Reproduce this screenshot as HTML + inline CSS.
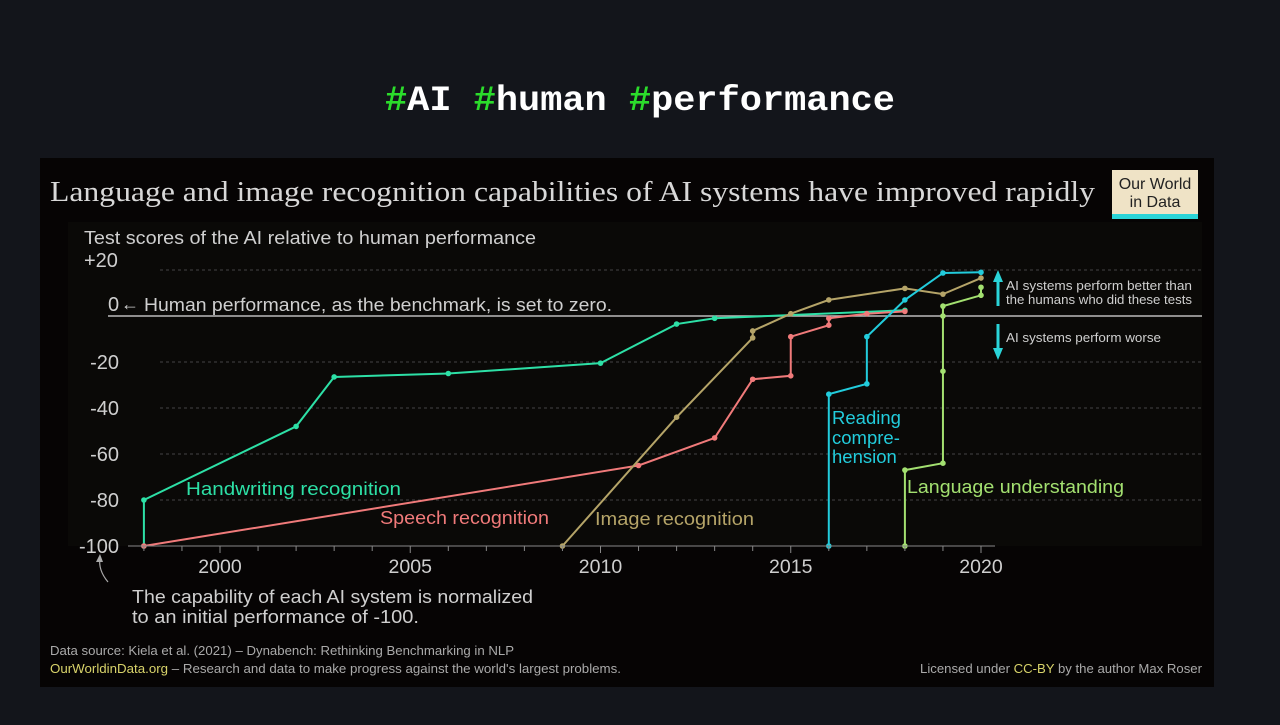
<!DOCTYPE html>
<html><head><meta charset="utf-8"><style>
body{margin:0;width:1280px;height:720px;background:#13151b;overflow:hidden;font-family:"Liberation Sans",sans-serif}
</style></head><body>
<svg width="1280" height="720" viewBox="0 0 1280 720" xmlns="http://www.w3.org/2000/svg">
<text x="385" y="110" textLength="510" lengthAdjust="spacingAndGlyphs" font-family="Liberation Mono, monospace" font-weight="bold" font-size="35" fill="#fff"><tspan fill="#2bdc2b">#</tspan>AI <tspan fill="#2bdc2b">#</tspan>human <tspan fill="#2bdc2b">#</tspan>performance</text>
<rect x="40" y="158" width="1174" height="529" fill="#060404"/>
<rect x="68" y="222" width="1134" height="324" fill="#0a0907"/>
<text x="50" y="201" textLength="1045" lengthAdjust="spacingAndGlyphs" font-family="Liberation Serif, serif" font-size="28" fill="#d8d8d8">Language and image recognition capabilities of AI systems have improved rapidly</text>
<g>
<rect x="1112" y="170" width="86" height="49" fill="#efe3c6"/>
<rect x="1112" y="214" width="86" height="5" fill="#2ad4d8"/>
<text x="1155" y="189" text-anchor="middle" font-size="16" fill="#222">Our World</text>
<text x="1155" y="207" text-anchor="middle" font-size="16" fill="#222">in Data</text>
</g>
<text x="84" y="244" textLength="452" lengthAdjust="spacingAndGlyphs" font-size="18" fill="#cfcfcf">Test scores of the AI relative to human performance</text>
<g id="grid"></g><g id="series"></g><g id="xaxis"></g>
<text x="144" y="311" textLength="468" lengthAdjust="spacingAndGlyphs" font-size="18" fill="#cfcfcf">Human performance, as the benchmark, is set to zero.</text>
<text x="121" y="310" font-size="18" fill="#cfcfcf">←</text>
<g>
<line x1="998" y1="306" x2="998" y2="278" stroke="#2ad4d8" stroke-width="3"/><polygon points="993,282 998,270 1003,282" fill="#2ad4d8"/>
<text x="1006" y="290" textLength="186" lengthAdjust="spacingAndGlyphs" font-size="12.5" fill="#cfcfcf">AI systems perform better than</text>
<text x="1006" y="304" textLength="186" lengthAdjust="spacingAndGlyphs" font-size="12.5" fill="#cfcfcf">the humans who did these tests</text></g>
<g>
<line x1="998" y1="324" x2="998" y2="352" stroke="#2ad4d8" stroke-width="3"/><polygon points="993,348 998,360 1003,348" fill="#2ad4d8"/>
<text x="1006" y="342" textLength="155" lengthAdjust="spacingAndGlyphs" font-size="12.5" fill="#cfcfcf">AI systems perform worse</text></g>
<text x="186" y="495" textLength="215" lengthAdjust="spacingAndGlyphs" font-size="18" fill="#2de0a6">Handwriting recognition</text>
<text x="380" y="524" textLength="169" lengthAdjust="spacingAndGlyphs" font-size="18" fill="#f07a7a">Speech recognition</text>
<text x="595" y="525" textLength="159" lengthAdjust="spacingAndGlyphs" font-size="18" fill="#b5a468">Image recognition</text>
<g font-size="18.5" fill="#22ccdc"><text x="832" y="424">Reading</text><text x="832" y="444">compre-</text><text x="832" y="463">hension</text></g>
<text x="907" y="493" textLength="217" lengthAdjust="spacingAndGlyphs" font-size="18" fill="#a3e070">Language understanding</text>
<path d="M108,582 Q98,570 100,558" stroke="#aaa" fill="none" stroke-width="1.2"/>
<polygon points="96,562 100,554 103,562" fill="#aaa"/>
<text x="132" y="603" textLength="401" lengthAdjust="spacingAndGlyphs" font-size="18.5" fill="#cfcfcf">The capability of each AI system is normalized</text>
<text x="132" y="623" textLength="287" lengthAdjust="spacingAndGlyphs" font-size="18.5" fill="#cfcfcf">to an initial performance of -100.</text>
<text x="50" y="655" textLength="464" lengthAdjust="spacingAndGlyphs" font-size="12.5" fill="#aaa">Data source: Kiela et al. (2021) – Dynabench: Rethinking Benchmarking in NLP</text>
<text x="50" y="673" textLength="571" lengthAdjust="spacingAndGlyphs" font-size="12.5" fill="#aaa"><tspan fill="#d8d36a">OurWorldinData.org</tspan> – Research and data to make progress against the world's largest problems.</text>
<text x="1202" y="673" text-anchor="end" textLength="282" lengthAdjust="spacingAndGlyphs" font-size="12.5" fill="#aaa">Licensed under <tspan fill="#d8d36a">CC-BY</tspan> by the author Max Roser</text>
</svg>
<script>
const yTicks=[20,0,-20,-40,-60,-80,-100];
const yTickLabels=["+20","0","-20","-40","-60","-80","-100"];
const xTicks=[2000,2005,2010,2015,2020];
const handwritingX=[1998,1998,2002,2003,2006,2010,2012,2013,2018];
const handwritingY=[-100,-80,-48,-26.5,-25,-20.5,-3.5,-1,2.5];
const speechX=[1998,2011,2013,2014,2015,2015,2016,2016,2017,2018];
const speechY=[-100,-65,-53,-27.5,-26,-9,-4,-1,1,2];
const imageX=[2009,2012,2014,2014,2015,2016,2018,2019,2020];
const imageY=[-100,-44,-9.5,-6.5,1,7,12,9.5,16.5];
const readingX=[2016,2016,2017,2017,2018,2019,2020];
const readingY=[-100,-34,-29.5,-9,7,18.7,19];
const languageX=[2018,2018,2019,2019,2019,2019,2020,2020];
const languageY=[-100,-67,-64,-24,0,4.3,9,12.5];
const NS="http://www.w3.org/2000/svg";
const xs=y=>220+(y-2000)*38.05;
const ys=v=>316-v*2.3;
function mk(tag,attrs,parent){const e=document.createElementNS(NS,tag);for(const k in attrs)e.setAttribute(k,attrs[k]);parent.appendChild(e);return e;}
const grid=document.getElementById('grid');
yTicks.forEach((t,i)=>{
 if(t!==-100){const l=mk('line',{x1:t===0?108:160,x2:1202,y1:ys(t),y2:ys(t),stroke:t===0?'#bbb':'#444','stroke-width':t===0?1.5:1,'stroke-dasharray':t===0?'':'3,3'},grid);
 
 }
 const tx=mk('text',{x:119,y:ys(t)+7,'text-anchor':'end','font-size':'20',fill:'#cfcfcf'},grid);
 if(t===0||t===20){tx.setAttribute('text-anchor','start');tx.setAttribute('x',t===0?108:84);tx.setAttribute('y',t===20?ys(t)-3:ys(t)-5);}
 tx.textContent=yTickLabels[i];
 
 
});
const xa=document.getElementById('xaxis');
const base=mk('line',{x1:128,x2:995,y1:546,y2:546,stroke:'#888'},xa);


for(let yr=1998;yr<=2020;yr++){const m=mk('line',{x1:xs(yr),x2:xs(yr),y1:546,y2:xTicks.includes(yr)?553:551,stroke:'#888'},xa);
 
 }
xTicks.forEach(t=>{const tx=mk('text',{x:xs(t),y:573,'text-anchor':'middle','font-size':'19.5',fill:'#cfcfcf'},xa);tx.textContent=t;
 
 });
const sg=document.getElementById('series');
function draw(X,Y,color,name){
 const p=mk('polyline',{points:X.map((x,i)=>xs(x)+','+ys(Y[i])).join(' '),fill:'none',stroke:color,'stroke-width':2},sg);
 
 
 X.forEach((x,i)=>{const c=mk('circle',{cx:xs(x),cy:ys(Y[i]),r:2.8,fill:color},sg);
  
  });
}
draw(handwritingX,handwritingY,'#2de0a6','handwriting');
draw(speechX,speechY,'#f07a7a','speech');
draw(imageX,imageY,'#b5a468','image');
draw(readingX,readingY,'#22ccdc','reading');
draw(languageX,languageY,'#a3e070','language');
</script>
</body></html>
